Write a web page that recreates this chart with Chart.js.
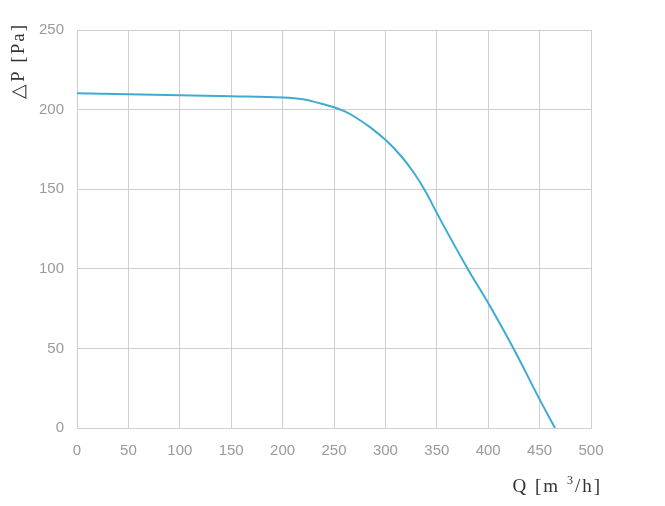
<!DOCTYPE html>
<html>
<head>
<meta charset="utf-8">
<script src="https://cdn.jsdelivr.net/npm/chart.js@4"></script>
<style>
  html, body { margin: 0; padding: 0; background: #fff; }
  #wrap { width: 665px; height: 506px; }
</style>
</head>
<body>
<div id="wrap"><canvas id="chart"></canvas></div>
<script>
// airflow Q [m3/h] and pressure dP [Pa]
const flow = [0, 50, 100, 150, 200, 220, 236, 250, 260, 270, 285, 300, 315, 328, 340, 350, 380, 400, 425, 450, 465];
const pressure = [210.2, 209.6, 209, 208.4, 207.6, 206.5, 204, 201.5, 199, 195.5, 189, 181, 171, 160, 147.5, 135, 100, 78.5, 49.5, 18, 0];

const xTicks = [0, 50, 100, 150, 200, 250, 300, 350, 400, 450, 500];
const yTicks = [0, 50, 100, 150, 200, 250];

const yTitle = "\u25b3P [Pa]";

const points = flow.map((q, i) => ({ x: q, y: pressure[i] }));

// axis titles sit outside the plot, like the original drawing
const axisTitles = {
  id: "axisTitles",
  afterDraw(chart) {
    const { ctx, chartArea } = chart;
    const big = "19px 'Liberation Serif', serif";
    const small = "12px 'Liberation Serif', serif";
    ctx.save();
    ctx.fillStyle = "#333";
    ctx.textBaseline = "alphabetic";
    ctx.letterSpacing = "2px";

    // Q [m ³/h], with the 3 raised
    const parts = [["Q [m ", big, 0], ["3", small, -8], ["/h]", big, 0]];
    let total = 0;
    parts.forEach(p => { ctx.font = p[1]; p.push(ctx.measureText(p[0]).width); total += p[3]; });
    let x = chartArea.right + 11 - total;
    const base = chartArea.bottom + 64;
    ctx.textAlign = "left";
    parts.forEach(p => { ctx.font = p[1]; ctx.fillText(p[0], x, base + p[2]); x += p[3]; });

    ctx.font = big;
    ctx.textBaseline = "middle";
    ctx.translate(19, 61);
    ctx.rotate(-Math.PI / 2);
    ctx.textAlign = "center";
    ctx.fillText(yTitle, 0, 0);
    ctx.restore();
  }
};

const ctx = document.getElementById("chart").getContext("2d");
new Chart(ctx, {
  type: "scatter",
  data: {
    datasets: [{
      data: points,
      showLine: true,
      borderColor: "#3eacd2",
      borderWidth: 2,
      pointRadius: 0,
      tension: 0.4,
      fill: false
    }]
  },
  options: {
    responsive: true,
    maintainAspectRatio: false,
    animation: false,
    layout: { padding: { top: 30, right: 74, left: 0, bottom: 0 } },
    plugins: { legend: { display: false }, tooltip: { enabled: false } },
    scales: {
      x: {
        type: "linear",
        min: 0,
        max: 500,
        afterBuildTicks: (s) => { s.ticks = xTicks.map(v => ({ value: v })); },
        afterFit: (s) => { s.height = 78; },
        grid: { color: "#cfcfcf", lineWidth: 1, drawTicks: false },
        border: { color: "#cfcfcf" },
        ticks: { color: "#9a9a9a", font: { family: "Liberation Sans", size: 15 }, padding: 14 }
      },
      y: {
        min: 0,
        max: 250,
        afterBuildTicks: (s) => { s.ticks = yTicks.map(v => ({ value: v })); },
        afterFit: (s) => { s.width = 77; },
        grid: { color: "#cfcfcf", lineWidth: 1, drawTicks: false },
        border: { color: "#cfcfcf" },
        ticks: { color: "#9a9a9a", font: { family: "Liberation Sans", size: 15 }, padding: 13 }
      }
    }
  },
  plugins: [axisTitles]
});
</script>
</body>
</html>
